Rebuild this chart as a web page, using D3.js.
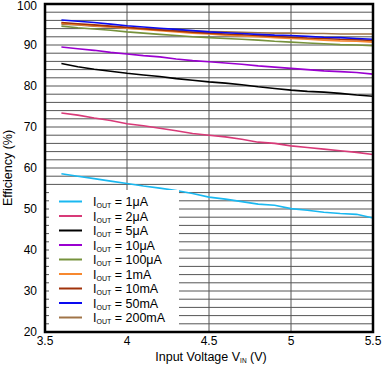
<!DOCTYPE html>
<html><head><meta charset="utf-8">
<script src="https://cdn.jsdelivr.net/npm/d3@7"></script>
<style>body{margin:0;background:#fff}svg{display:block;font-family:"Liberation Sans",Arial,sans-serif}</style>
</head><body><svg id="c" width="382" height="366"></svg>
<script>
const vin = [3.6,3.7,3.8,3.9,4.0,4.1,4.2,4.3,4.4,4.5,4.6,4.7,4.8,4.9,5.0,5.1,5.2,5.3,5.4,5.5];
const eff1uA   = [58.6,58.0,57.4,56.8,56.2,55.6,55.1,54.5,53.8,52.9,52.4,51.8,51.2,50.9,50.1,49.7,49.2,48.9,48.7,47.8];
const eff2uA   = [73.4,72.9,72.2,71.6,70.8,70.3,69.7,69.1,68.4,68.0,67.6,67.0,66.3,66.0,65.4,65.0,64.6,64.2,63.8,63.3];
const eff5uA   = [85.5,84.7,84.1,83.6,83.1,82.7,82.3,81.8,81.4,81.0,80.7,80.3,79.8,79.4,79.0,78.7,78.5,78.2,77.8,77.5];
const eff10uA  = [89.5,89.1,88.7,88.2,87.8,87.4,87.1,86.6,86.2,85.9,85.6,85.3,84.9,84.6,84.3,84.0,83.7,83.5,83.3,82.9];
const eff100uA = [94.6,94.2,93.9,93.6,93.2,92.9,92.6,92.3,92.0,91.8,91.6,91.4,91.2,90.9,90.7,90.5,90.3,90.1,90.0,89.8];
const eff1mA   = [95.3,95.0,94.7,94.4,94.1,93.8,93.5,93.2,92.9,92.7,92.4,92.2,92.0,91.8,91.6,91.4,91.2,91.0,90.9,90.7];
const eff10mA  = [95.5,95.2,94.9,94.6,94.3,94.0,93.7,93.4,93.1,92.9,92.7,92.5,92.3,92.1,91.9,91.7,91.6,91.4,91.3,91.1];
const eff50mA  = [96.1,95.8,95.5,95.1,94.7,94.4,94.1,93.8,93.5,93.2,93.0,92.8,92.6,92.4,92.3,92.1,91.9,91.8,91.6,91.4];
const eff200mA = [95.1,94.9,94.6,94.4,94.1,93.9,93.7,93.5,93.4,93.3,93.2,93.1,93.0,92.9,92.9,92.8,92.8,92.7,92.7,92.7];
const seriesNames = ["1\u03bcA","2\u03bcA","5\u03bcA","10\u03bcA","100\u03bcA","1mA","10mA","50mA","200mA"];
const seriesData = [eff1uA,eff2uA,eff5uA,eff10uA,eff100uA,eff1mA,eff10mA,eff50mA,eff200mA];
const colors = ["#1ab8f0","#d83a78","#000000","#9a00d0","#76923c","#f7882f","#a0320a","#0a0af0","#a07448"];
const xTicks = [3.5,4,4.5,5,5.5];
const xTickLabels = ["3.5","4","4.5","5","5.5"];
const yTicks = [20,30,40,50,60,70,80,90,100];

const svg = d3.select("#c");
const L=45, R=373, T=4, B=332;
const x = d3.scaleLinear().domain([3.5,5.5]).range([L,R]);
const y = d3.scaleLinear().domain([20,100]).range([B,T]);

// horizontal grid every 2
const g = svg.append("g");
g.selectAll("line.h").data(d3.range(22,100,2)).join("line")
  .attr("x1",L).attr("x2",R).attr("y1",d=>y(d)).attr("y2",d=>y(d))
  .attr("stroke","#555").attr("stroke-width",1);
g.selectAll("line.v").data([4,4.5,5]).join("line")
  .attr("x1",d=>x(d)).attr("x2",d=>x(d)).attr("y1",T).attr("y2",B)
  .attr("stroke","#555").attr("stroke-width",1);

// lines
const line = d3.line().x((d,i)=>x(vin[i])).y(d=>y(d));
const order = [0,1,2,3,4,8,5,6,7];
order.forEach(k=>{
  svg.append("path").datum(seriesData[k]).attr("d",line)
    .attr("fill","none").attr("stroke",colors[k]).attr("stroke-width",1.6);
});

// legend
const lg = svg.append("g");
lg.append("rect").attr("x",49).attr("y",190).attr("width",130).attr("height",B-190-1).attr("fill","#fff");
seriesNames.forEach((n,i)=>{
  const yy = 201.5 + i*14.5;
  lg.append("line").attr("x1",59).attr("x2",82).attr("y1",yy).attr("y2",yy)
    .attr("stroke",colors[i]).attr("stroke-width",2);
  const t = lg.append("text").attr("x",93).attr("y",yy+4.5).attr("font-size",12.5).attr("fill","#000");
  t.append("tspan").text("I");
  t.append("tspan").attr("font-size",7).attr("dy",2).text("OUT");
  t.append("tspan").attr("dy",-2).text(" = "+n);
});

// frame
svg.append("rect").attr("x",L).attr("y",T).attr("width",R-L).attr("height",B-T)
  .attr("fill","none").attr("stroke","#000").attr("stroke-width",2.5);

// axis labels
svg.selectAll("text.yt").data(yTicks).join("text").attr("class","yt")
  .attr("x",37).attr("y",d=>Math.max(y(d)+4.3,10)).attr("text-anchor","end").attr("font-size",12).text(d=>d);
svg.selectAll("text.xt").data(xTicks).join("text").attr("class","xt")
  .attr("x",d=>x(d)).attr("y",345).attr("text-anchor","middle").attr("font-size",12)
  .text((d,i)=>xTickLabels[i]);

const xt = svg.append("text").attr("x",211).attr("y",361).attr("text-anchor","middle").attr("font-size",12.5);
xt.append("tspan").text("Input Voltage V");
xt.append("tspan").attr("font-size",6.5).attr("dy",1.5).text("IN");
xt.append("tspan").attr("dy",-1.5).text(" (V)");

svg.append("text").attr("transform",`translate(12,${(T+B)/2}) rotate(-90)`)
  .attr("text-anchor","middle").attr("font-size",12.5).text("Efficiency (%)");
</script></body></html>
